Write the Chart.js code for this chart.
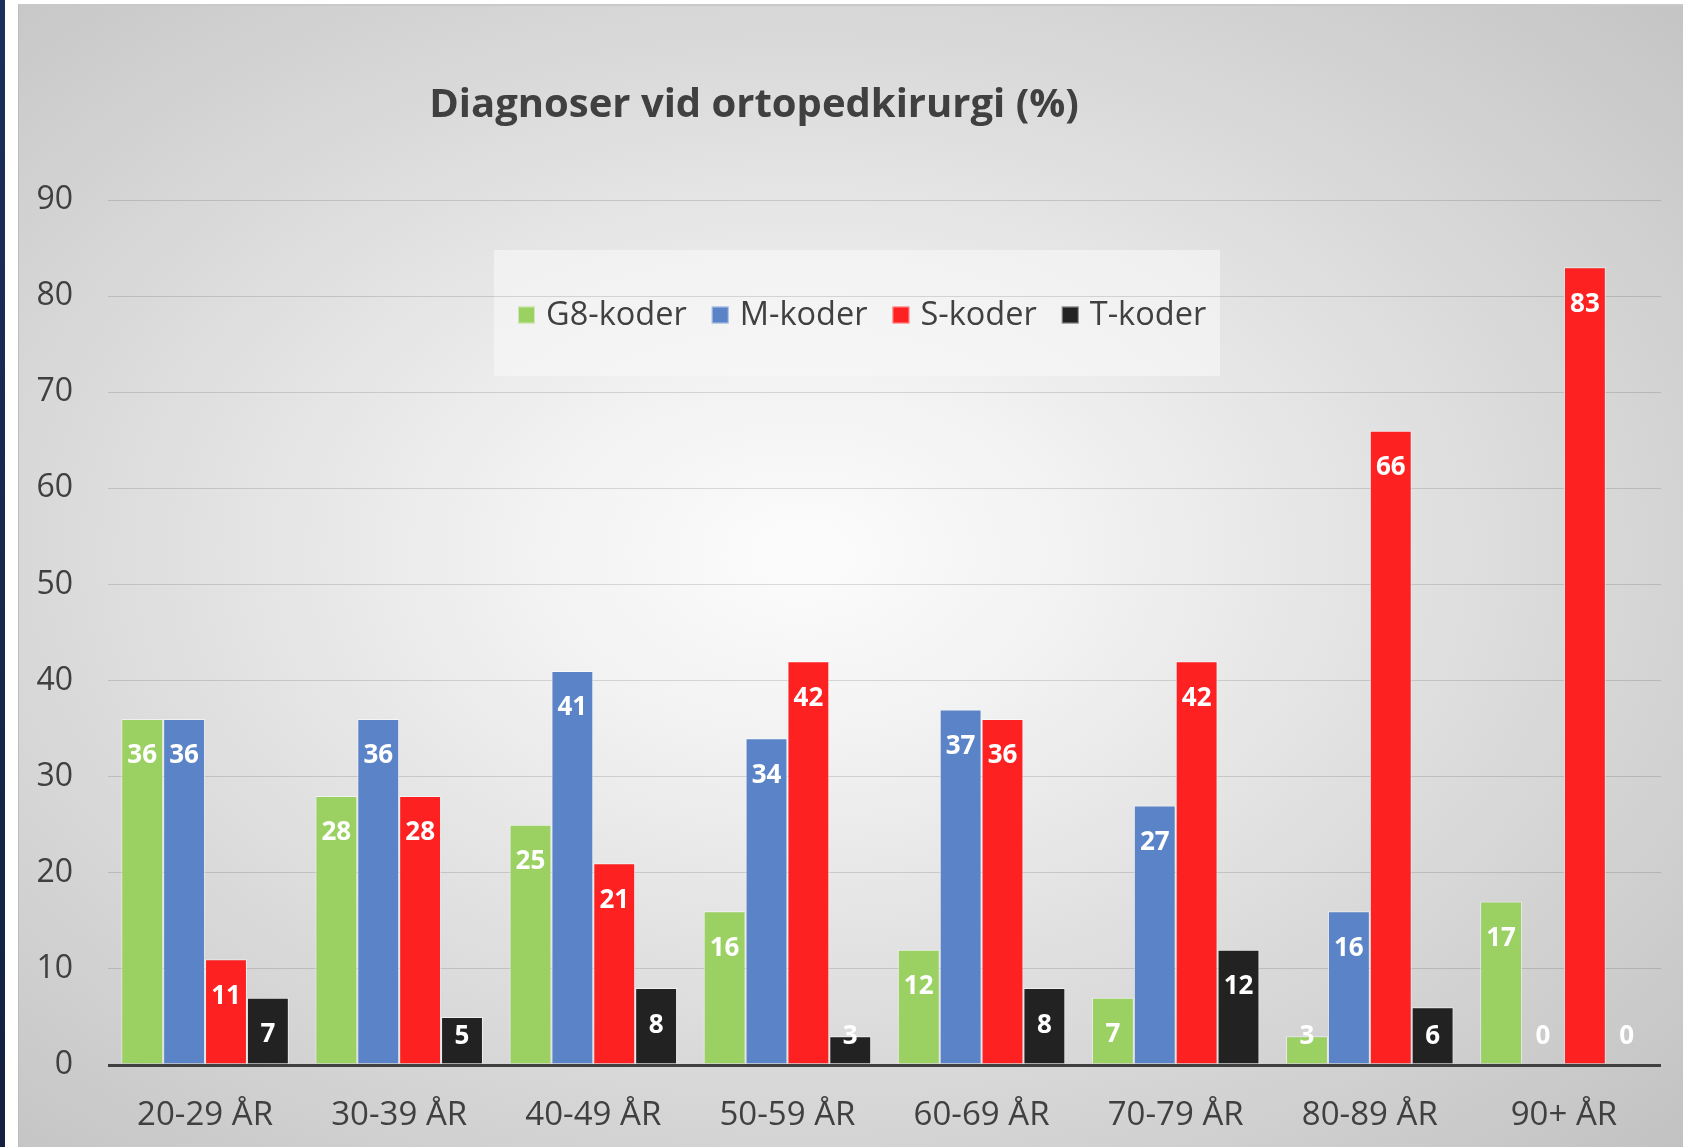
<!DOCTYPE html>
<html><head><meta charset="utf-8">
<script src="https://cdn.jsdelivr.net/npm/chart.js@4/dist/chart.umd.min.js"></script>
<style>
html,body{margin:0;padding:0;width:1683px;height:1147px;overflow:hidden;background:#fff;}
#strip{position:absolute;left:0;top:0;width:5px;height:1147px;background:linear-gradient(#1c2e5c,#13203f);}
#panel{position:absolute;left:18px;top:4px;width:1665px;height:1143px;box-sizing:border-box;border-left:1px solid #bdbdbd;border-top:2px solid #c9c9c9;
background:radial-gradient(ellipse farthest-corner at 47% 48%, #fcfcfc 0%, #f2f2f2 22%, #dadada 60%, #c2c2c2 100%);}
#wrap{position:absolute;left:0;top:0;width:1683px;height:1147px;}
</style></head>
<body>
<div id="strip"></div><div id="panel"></div>
<div id="wrap"><canvas id="c" width="1683" height="1147"></canvas></div>
<script>
const chartTitle = 'Diagnoser vid ortopedkirurgi (%)';
const categories = ['20-29 ÅR','30-39 ÅR','40-49 ÅR','50-59 ÅR','60-69 ÅR','70-79 ÅR','80-89 ÅR','90+ ÅR'];
const seriesNames = ['G8-koder','M-koder','S-koder','T-koder'];
const g8Values = [36, 28, 25, 16, 12, 7, 3, 17];
const mValues  = [36, 36, 41, 34, 37, 27, 16, 0];
const sValues  = [11, 28, 21, 42, 36, 42, 66, 83];
const tValues  = [7, 5, 8, 3, 8, 12, 6, 0];
const yTicks = [0,10,20,30,40,50,60,70,80,90];

const colors = ['#9bd162','#5b84c8','#fe2122','#222222'];
const FONT = "'Open Sans', 'Noto Sans', sans-serif";
const TXT = '#404040';

Chart.defaults.font.family = FONT;
Chart.defaults.color = TXT;

const deco = {
  id: 'deco',
  beforeDraw(chart){
    const ctx = chart.ctx;
    ctx.save();
    ctx.fillStyle = 'rgba(248,248,248,0.6)';
    ctx.fillRect(494, 250, 726, 126);
    ctx.restore();
  },
  afterDatasetsDraw(chart){
    const ctx = chart.ctx;
    const base = chart.scales.y.getPixelForValue(0);
    ctx.save();
    ctx.font = "bold 26px " + FONT;
    ctx.fillStyle = '#ffffff';
    ctx.textAlign = 'center';
    ctx.textBaseline = 'middle';
    chart.data.datasets.forEach((ds, i) => {
      chart.getDatasetMeta(i).data.forEach((el, j) => {
        const y = Math.min(el.y + 37, base - 28);
        ctx.fillText(String(ds.data[j]), el.x, y);
      });
    });
    ctx.restore();
  },
  afterDraw(chart){
    const ctx = chart.ctx;
    ctx.save();
    // title
    ctx.font = "bold 40px " + FONT;
    ctx.fillStyle = TXT;
    ctx.textAlign = 'center';
    ctx.textBaseline = 'middle';
    ctx.fillText(chartTitle, 754, 106);
    // legend
    ctx.font = "32.5px " + FONT;
    ctx.textAlign = 'left';
    let x = 518;
    const yc = 315;
    chart.data.datasets.forEach((ds) => {
      ctx.fillStyle = ds.backgroundColor;
      ctx.fillRect(x, yc - 8.5, 17, 17);
      ctx.strokeStyle = 'rgba(255,255,255,0.5)';
      ctx.lineWidth = 1;
      ctx.strokeRect(x + 0.5, yc - 8, 16, 16);
      ctx.fillStyle = TXT;
      ctx.fillText(ds.label, x + 28, yc + 1);
      x += 28 + ctx.measureText(ds.label).width + 25;
    });
    ctx.restore();
  }
};

const seriesValues = [g8Values, mValues, sValues, tValues];
new Chart(document.getElementById('c'), {
  type: 'bar',
  data: {
    labels: categories,
    datasets: seriesNames.map((n, i) => ({
      label: n,
      data: seriesValues[i],
      backgroundColor: colors[i],
      borderColor: 'rgba(255,255,255,0.55)',
      borderWidth: 1,
      categoryPercentage: 0.863,
      barPercentage: 1.0
    }))
  },
  options: {
    responsive: false,
    animation: false,
    layout: { padding: { left: 18, right: 22, top: 200, bottom: 22 } },
    plugins: { legend: { display: false }, title: { display: false }, tooltip: { enabled: false } },
    scales: {
      x: {
        grid: { display: false, drawTicks: false },
        border: { display: false },
        ticks: { font: { size: 33 }, color: TXT, padding: 31 },
        afterFit(s){ s.height = 60; }
      },
      y: {
        min: 0, max: 90,
        afterBuildTicks(s){ s.ticks = yTicks.map(v => ({ value: v })); },
        grid: {
          drawTicks: false,
          color: c => c.tick && c.tick.value === 0 ? '#404040' : 'rgba(0,0,0,0.13)',
          lineWidth: c => c.tick && c.tick.value === 0 ? 3 : 1
        },
        border: { display: false },
        ticks: { font: { size: 32 }, color: TXT, padding: 35 },
        afterFit(s){ s.width = 90; }
      }
    }
  },
  plugins: [deco]
});
</script>
</body></html>
